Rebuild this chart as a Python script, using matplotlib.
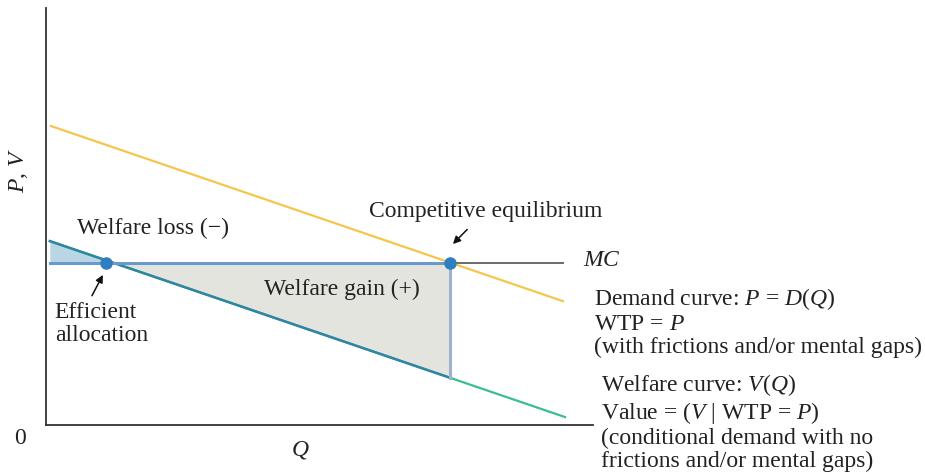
import numpy as np
import matplotlib.pyplot as plt

plt.rcParams['font.family'] = ['Liberation Serif', 'DejaVu Serif']
plt.rcParams['mathtext.fontset'] = 'custom'
plt.rcParams['mathtext.rm'] = 'Liberation Serif'
plt.rcParams['mathtext.it'] = 'Liberation Serif:italic'

# straight lines given by their end points (Q, P)
demand_q = [0.9, 94.5]
demand_p = [71.7, 29.7]
welfare_q = [0.7, 94.9]
welfare_v = [44.1, 1.9]
mc_level = 38.8
mc_q = [0.7, 94.5]
q_efficient = 11.0
q_competitive = 73.9

fig = plt.figure(figsize=(9.25, 4.75), dpi=100)
ax = fig.add_axes([46 / 925, 50 / 475, 547 / 925, 417 / 475])
ax.set_xlim(0, 100)
ax.set_ylim(0, 100)
for s in ['top', 'right']:
    ax.spines[s].set_visible(False)
for s in ['left', 'bottom']:
    ax.spines[s].set_color('#333333')
    ax.spines[s].set_linewidth(1.3)
ax.set_xticks([])
ax.set_yticks([])

def welfare(q):
    return np.interp(q, welfare_q, welfare_v)

# welfare loss (left triangle)
ql = np.linspace(welfare_q[0], q_efficient, 20)
ax.fill_between(ql, mc_level, welfare(ql), color='#b9d6e4', lw=0, zorder=1)
# welfare gain
qg = np.linspace(q_efficient, q_competitive, 50)
ax.fill_between(qg, mc_level, welfare(qg), color='#e4e4df', lw=0, zorder=1)

ax.plot(demand_q, demand_p, color='#f6c54c', lw=1.6, zorder=3)
ax.plot(welfare_q, welfare_v, color='#3dbd8d', lw=1.6, zorder=2)
qs = np.array([welfare_q[0], q_competitive])
ax.plot(qs, welfare(qs), color='#2f85a3', lw=1.8, zorder=2)

ax.plot([mc_q[0], q_competitive], [mc_level, mc_level], color='#6a9acb', lw=2.2, zorder=2)
ax.plot([q_competitive, mc_q[1]], [mc_level, mc_level], color='#6b6b6b', lw=1.4, zorder=2)
ax.plot([q_competitive, q_competitive], [mc_level, welfare(q_competitive)],
        color='#9db2cd', lw=2.2, zorder=2)

ax.plot([q_efficient, q_competitive], [mc_level, mc_level], 'o', color='#2f7ec0',
        ms=8, zorder=5, clip_on=False)

arrow = dict(arrowstyle='-|>', color='#111111', lw=1.1, mutation_scale=11,
             shrinkA=0, shrinkB=0)
ax.annotate('', xy=(10.4, 36.0), xytext=(8.4, 31.0), arrowprops=arrow)
ax.annotate('', xy=(74.4, 43.4), xytext=(77.0, 46.9), arrowprops=arrow)

fs = 17
ls = 1.12
tc = '#222222'
ax.text(19.6, 47.2, 'Welfare loss (\u2212)', fontsize=fs, color=tc, ha='center', va='center')
ax.text(80.3, 51.1, 'Competitive equilibrium', fontsize=fs, color=tc, ha='center', va='center')
ax.text(54.1, 32.4, 'Welfare gain (+)', fontsize=fs, color=tc, ha='center', va='center')
ax.text(1.6, 24.2, 'Efficient\nallocation', fontsize=fs, color=tc, ha='left', va='center',
        linespacing=ls)

fig.text(583 / 925, 1 - 260 / 475, '$MC$', fontsize=fs, color=tc, ha='left', va='center')
fig.text(594 / 925, 1 - 322 / 475,
         'Demand curve: $P$ = $D$($Q$)\nWTP = $P$\n(with frictions and/or mental gaps)',
         fontsize=fs, color=tc, ha='left', va='center', linespacing=ls)
fig.text(601 / 925, 1 - 422 / 475,
         'Welfare curve: $V$($Q$)\nValue = ($V$ | WTP = $P$)\n(conditional demand with no\nfrictions and/or mental gaps)',
         fontsize=fs, color=tc, ha='left', va='center', linespacing=ls)

fig.text(18 / 925, 1 - 170 / 475, '$P$, $V$', fontsize=fs, color=tc, ha='center', va='center',
         rotation=90)
fig.text(20 / 925, 1 - 438 / 475, '0', fontsize=fs, color=tc, ha='center', va='center')
fig.text(300 / 925, 1 - 450 / 475, '$Q$', fontsize=fs, color=tc, ha='center', va='center')

fig.savefig('out.png', dpi=100)
